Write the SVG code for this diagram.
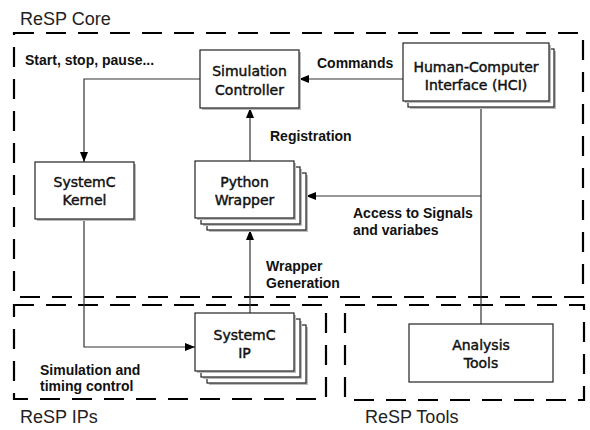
<svg xmlns="http://www.w3.org/2000/svg" width="590" height="430" viewBox="0 0 590 430">
<style>
.grp{fill:none;stroke:#000;stroke-width:2.2;stroke-dasharray:20 12}
.title{font-family:"Liberation Sans",Arial,sans-serif;font-size:18px;fill:#222}
.box{fill:#fff;stroke:#222;stroke-width:1.2}
.shadow{fill:#bbb;stroke:none}
.nt{font-family:"DejaVu Sans",Verdana,sans-serif;font-size:14px;fill:#111;stroke:#111;stroke-width:0.45;text-anchor:middle}
.lbl{font-family:"Liberation Sans",Arial,sans-serif;font-size:14px;font-weight:bold;fill:#111}
.conn{fill:none;stroke:#333;stroke-width:1.2}
</style>
<defs>
<marker id="ah" viewBox="0 0 10 8" refX="10" refY="4" markerWidth="10" markerHeight="8" markerUnits="userSpaceOnUse" orient="auto">
<path d="M0,0 L10,4 L0,8 Z" fill="#000"/>
</marker>
</defs>

<g id="groups">
<rect class="grp" x="14" y="33" width="569" height="264"/>
<text class="title" x="20" y="25">ReSP Core</text>
<rect class="grp" x="14" y="305" width="312" height="94"/>
<text class="title" x="20" y="423">ReSP IPs</text>
<rect class="grp" x="345" y="305" width="239" height="95"/>
<text class="title" x="365" y="423">ReSP Tools</text>
</g>

<g id="connectors">
<line class="conn" x1="403" y1="79" x2="299" y2="79" marker-end="url(#ah)"/>
<path class="conn" d="M200,79 H84 V162" marker-end="url(#ah)"/>
<path class="conn" d="M250,161 V108" marker-end="url(#ah)"/>
<path class="conn" d="M481,107 V324"/>
<path class="conn" d="M481,196 H306" marker-end="url(#ah)"/>
<path class="conn" d="M250,313 V230" marker-end="url(#ah)"/>
<path class="conn" d="M84,219 V347 H195" marker-end="url(#ah)"/>
<text class="lbl" x="25" y="65">Start, stop, pause...</text>
<text class="lbl" x="317" y="68">Commands</text>
<text class="lbl" x="270" y="141">Registration</text>
<text class="lbl" x="353" y="218">Access to Signals</text>
<text class="lbl" x="353" y="235">and variabes</text>
<text class="lbl" x="266" y="271">Wrapper</text>
<text class="lbl" x="266" y="288">Generation</text>
<text class="lbl" x="40" y="375">Simulation and</text>
<text class="lbl" x="40" y="391">timing control</text>
</g>

<g id="sim-controller">
<rect class="shadow" x="202" y="52" width="99" height="58"/>
<rect class="box" x="200" y="50" width="99" height="58"/>
<text class="nt" x="249.5" y="76">Simulation</text>
<text class="nt" x="249.5" y="95">Controller</text>
</g>

<g id="hci">
<rect class="shadow" x="410" y="51" width="146" height="58"/>
<rect class="box" x="408" y="49" width="146" height="58"/>
<rect class="shadow" x="405" y="45" width="146" height="58"/>
<rect class="box" x="403" y="43" width="146" height="58"/>
<text class="nt" x="476" y="72">Human-Computer</text>
<text class="nt" x="476" y="90">Interface (HCI)</text>
</g>

<g id="systemc-kernel">
<rect class="shadow" x="37" y="164" width="99" height="57"/>
<rect class="box" x="35" y="162" width="99" height="57"/>
<text class="nt" x="84.5" y="187">SystemC</text>
<text class="nt" x="84.5" y="205">Kernel</text>
</g>

<g id="python-wrapper">
<rect class="shadow" x="209" y="175" width="99" height="57"/>
<rect class="box" x="207" y="173" width="99" height="57"/>
<rect class="shadow" x="203" y="169" width="99" height="57"/>
<rect class="box" x="201" y="167" width="99" height="57"/>
<rect class="shadow" x="197" y="163" width="99" height="57"/>
<rect class="box" x="195" y="161" width="99" height="57"/>
<text class="nt" x="244.5" y="187">Python</text>
<text class="nt" x="244.5" y="205">Wrapper</text>
</g>

<g id="systemc-ip">
<rect class="shadow" x="209" y="327" width="99" height="58"/>
<rect class="box" x="207" y="325" width="99" height="58"/>
<rect class="shadow" x="203" y="321" width="99" height="58"/>
<rect class="box" x="201" y="319" width="99" height="58"/>
<rect class="shadow" x="197" y="315" width="99" height="58"/>
<rect class="box" x="195" y="313" width="99" height="58"/>
<text class="nt" x="244.5" y="340">SystemC</text>
<text class="nt" x="244.5" y="358">IP</text>
</g>

<g id="analysis-tools">
<rect class="box" x="409" y="324" width="144" height="58"/>
<text class="nt" x="481" y="350">Analysis</text>
<text class="nt" x="481" y="368">Tools</text>
</g>
</svg>
